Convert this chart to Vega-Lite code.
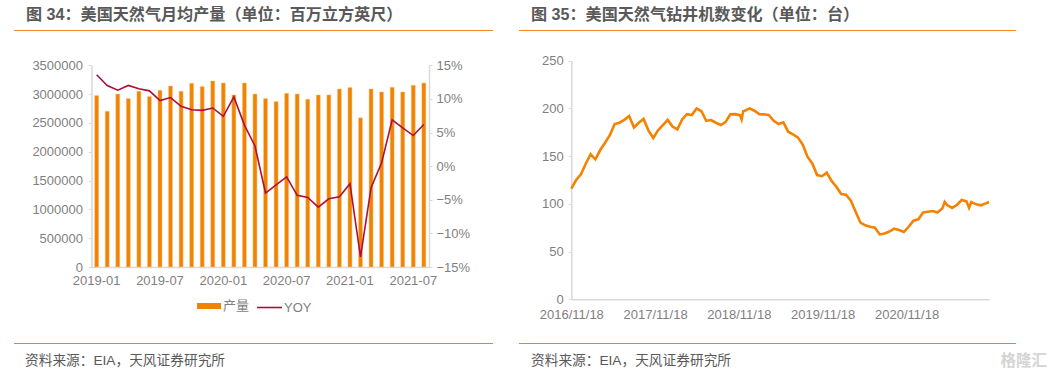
{"$schema":"https://vega.github.io/schema/vega-lite/v6.json","padding":{"left":13,"top":6,"right":0,"bottom":0},"background":"white","spacing":24,"config":{"view":{"stroke":null},"font":"Liberation Sans, Noto Sans CJK SC","title":{"font":"Liberation Sans, Noto Sans CJK SC"},"axis":{"labelFont":"Liberation Sans, Noto Sans CJK SC"},"legend":{"labelFont":"Liberation Sans, Noto Sans CJK SC"}},
"datasets":{"rule":[{"from":0,"to":1,"mark":"格隆汇"}],
"prod":[{"month":"2019-01","产量":2975000,"YOY":0.136},{"month":"2019-02","产量":2703000,"YOY":0.12},{"month":"2019-03","产量":3003000,"YOY":0.113},{"month":"2019-04","产量":2923000,"YOY":0.12},{"month":"2019-05","产量":3050000,"YOY":0.115},{"month":"2019-06","产量":2957000,"YOY":0.112},{"month":"2019-07","产量":3067000,"YOY":0.0975},{"month":"2019-08","产量":3142000,"YOY":0.102},{"month":"2019-09","产量":3050000,"YOY":0.089},{"month":"2019-10","产量":3188000,"YOY":0.084},{"month":"2019-11","产量":3130000,"YOY":0.083},{"month":"2019-12","产量":3229000,"YOY":0.0865},{"month":"2020-01","产量":3194000,"YOY":0.074},{"month":"2020-02","产量":2986000,"YOY":0.103},{"month":"2020-03","产量":3194000,"YOY":0.061},{"month":"2020-04","产量":3003000,"YOY":0.03},{"month":"2020-05","产量":2923000,"YOY":-0.04},{"month":"2020-06","产量":2870000,"YOY":-0.028},{"month":"2020-07","产量":3015000,"YOY":-0.016},{"month":"2020-08","产量":3003000,"YOY":-0.0435},{"month":"2020-09","产量":2911000,"YOY":-0.0465},{"month":"2020-10","产量":2986000,"YOY":-0.061},{"month":"2020-11","产量":2986000,"YOY":-0.0485},{"month":"2020-12","产量":3090000,"YOY":-0.0455},{"month":"2021-01","产量":3113000,"YOY":-0.026},{"month":"2021-02","产量":2588000,"YOY":-0.135},{"month":"2021-03","产量":3090000,"YOY":-0.032},{"month":"2021-04","产量":3038000,"YOY":0.005},{"month":"2021-05","产量":3119000,"YOY":0.069},{"month":"2021-06","产量":3038000,"YOY":0.057},{"month":"2021-07","产量":3153000,"YOY":0.0455},{"month":"2021-08","产量":3194000,"YOY":0.062}],
"rigs":[{"date":"2016/11/18","rigs":116},{"date":"2016/12/09","rigs":125},{"date":"2016/12/30","rigs":131},{"date":"2017/01/20","rigs":142},{"date":"2017/02/10","rigs":152},{"date":"2017/03/03","rigs":146.6},{"date":"2017/03/24","rigs":156.4},{"date":"2017/04/14","rigs":164},{"date":"2017/05/05","rigs":172},{"date":"2017/05/26","rigs":183.6},{"date":"2017/06/16","rigs":185},{"date":"2017/07/07","rigs":188},{"date":"2017/07/28","rigs":192},{"date":"2017/08/18","rigs":180},{"date":"2017/09/08","rigs":185},{"date":"2017/09/29","rigs":189},{"date":"2017/10/20","rigs":177},{"date":"2017/11/10","rigs":169},{"date":"2017/12/01","rigs":177},{"date":"2017/12/22","rigs":182.6},{"date":"2018/01/12","rigs":188},{"date":"2018/02/02","rigs":181},{"date":"2018/02/23","rigs":178},{"date":"2018/03/16","rigs":188.5},{"date":"2018/04/06","rigs":194},{"date":"2018/04/27","rigs":193},{"date":"2018/05/18","rigs":200},{"date":"2018/06/08","rigs":197},{"date":"2018/06/29","rigs":187},{"date":"2018/07/20","rigs":187.8},{"date":"2018/08/10","rigs":185},{"date":"2018/08/31","rigs":182.6},{"date":"2018/09/21","rigs":185.7},{"date":"2018/10/12","rigs":193.8},{"date":"2018/11/02","rigs":194},{"date":"2018/11/23","rigs":193},{"date":"2018/11/30","rigs":188.5},{"date":"2018/12/07","rigs":197},{"date":"2018/12/14","rigs":197.6},{"date":"2019/01/04","rigs":200},{"date":"2019/01/25","rigs":197.6},{"date":"2019/02/15","rigs":194},{"date":"2019/03/08","rigs":193.8},{"date":"2019/03/29","rigs":193},{"date":"2019/04/19","rigs":187},{"date":"2019/05/10","rigs":183.6},{"date":"2019/05/31","rigs":185.4},{"date":"2019/06/21","rigs":175.6},{"date":"2019/07/12","rigs":172.8},{"date":"2019/08/02","rigs":169.7},{"date":"2019/08/23","rigs":162.3},{"date":"2019/09/13","rigs":149.4},{"date":"2019/10/04","rigs":142.4},{"date":"2019/10/25","rigs":130.2},{"date":"2019/11/15","rigs":129},{"date":"2019/12/06","rigs":132.7},{"date":"2019/12/27","rigs":124},{"date":"2020/01/17","rigs":118},{"date":"2020/02/07","rigs":110.3},{"date":"2020/02/28","rigs":109.5},{"date":"2020/03/20","rigs":103.3},{"date":"2020/04/10","rigs":91.8},{"date":"2020/05/01","rigs":80.3},{"date":"2020/05/22","rigs":77.5},{"date":"2020/06/12","rigs":76},{"date":"2020/07/03","rigs":75},{"date":"2020/07/24","rigs":68},{"date":"2020/08/14","rigs":69},{"date":"2020/09/04","rigs":71},{"date":"2020/09/25","rigs":74},{"date":"2020/10/16","rigs":72.6},{"date":"2020/11/06","rigs":70.5},{"date":"2020/11/27","rigs":76},{"date":"2020/12/18","rigs":82.4},{"date":"2021/01/08","rigs":83.8},{"date":"2021/01/29","rigs":91},{"date":"2021/02/19","rigs":91.8},{"date":"2021/03/12","rigs":92.5},{"date":"2021/04/02","rigs":91},{"date":"2021/04/23","rigs":95.3},{"date":"2021/05/03","rigs":102},{"date":"2021/05/14","rigs":98.8},{"date":"2021/06/04","rigs":95.7},{"date":"2021/06/25","rigs":98.8},{"date":"2021/07/16","rigs":104},{"date":"2021/08/06","rigs":102.6},{"date":"2021/08/17","rigs":96},{"date":"2021/08/27","rigs":102},{"date":"2021/09/17","rigs":99.5},{"date":"2021/10/08","rigs":98.5},{"date":"2021/10/29","rigs":100.5},{"date":"2021/11/12","rigs":102}]},
"hconcat":[
{"bounds":"flush","spacing":0,"vconcat":[
{"width":479,"height":1,"data":{"name":"rule"},"title":{"text":"图 34\uff1a美国天然气月均产量\uff08单位\uff1a百万立方英尺\uff09","anchor":"start","frame":"group","dx":12,"fontSize":16.1,"fontWeight":"bold","color":"#595959","offset":7},"mark":{"type":"rule","color":"#f68a1e","strokeWidth":1},"encoding":{"x":{"field":"from","type":"quantitative","scale":{"domain":[0,1]},"axis":null},"x2":{"field":"to"}}},
{"width":479,"height":312,"data":{"name":"prod"},"layer":[
{"mark":{"type":"bar","stroke":"#f9c78f","strokeWidth":0.5},"encoding":{"x":{"field":"month","type":"ordinal","sort":null,"scale":{"range":[77.5,415],"paddingInner":0.62,"paddingOuter":0.3},"axis":{"title":null,"values":["2019-01","2019-07","2020-01","2020-07","2021-01","2021-07"],"labelAngle":0,"labelColor":"#7f7f7f","labelFontSize":13,"labelPadding":7,"ticks":false,"domainColor":"#d9d9d9","domainWidth":1.5,"grid":false,"offset":-76}},"y":{"field":"产量","type":"quantitative","scale":{"domain":[0,3500000],"range":[236,34.3],"nice":false},"axis":{"title":null,"values":[0,500000,1000000,1500000,2000000,2500000,3000000,3500000],"format":"d","labelColor":"#7f7f7f","labelFontSize":13,"labelPadding":6,"tickColor":"#d9d9d9","tickSize":3,"domainColor":"#d9d9d9","domainWidth":1.5,"grid":false,"offset":-77.5}},"fill":{"datum":"产量","scale":{"domain":["产量"],"range":["#f08300"]},"legend":{"orient":"none","legendX":183,"legendY":263,"title":null,"symbolType":"M-1,-0.25H1V0.25H-1Z","symbolSize":576,"symbolStrokeWidth":0,"labelColor":"#7f7f7f","labelFontSize":13,"labelOffset":2}}}},
{"mark":{"type":"line","strokeWidth":1.6,"interpolate":"linear"},"encoding":{"x":{"field":"month","type":"ordinal","sort":null},"y":{"field":"YOY","type":"quantitative","scale":{"domain":[-0.15,0.15],"range":[236,34.3],"nice":false},"axis":{"title":null,"orient":"right","values":[-0.15,-0.1,-0.05,0,0.05,0.1,0.15],"format":".0%","labelColor":"#7f7f7f","labelFontSize":13,"labelPadding":4,"tickColor":"#d9d9d9","tickSize":3,"domainColor":"#d9d9d9","domainWidth":1.5,"grid":false,"offset":-64}},"stroke":{"datum":"YOY","scale":{"domain":["YOY"],"range":["#ad0f3c"]},"legend":{"orient":"none","legendX":242,"legendY":263,"title":null,"symbolType":"stroke","symbolSize":625,"symbolStrokeWidth":1.6,"labelColor":"#7f7f7f","labelFontSize":13,"labelOffset":1}}}}
],"resolve":{"scale":{"y":"independent"},"axis":{"y":"independent"},"legend":{"fill":"independent","stroke":"independent"}}},
{"width":479,"height":1,"data":{"name":"rule"},"title":{"text":"资料来源\uff1aEIA\uff0c天风证券研究所","orient":"bottom","anchor":"start","frame":"group","dx":11,"fontSize":13.7,"fontWeight":"normal","color":"#595959","offset":10},"mark":{"type":"rule","color":"#ed7d31","strokeWidth":1},"encoding":{"x":{"field":"from","type":"quantitative","scale":{"domain":[0,1]},"axis":null},"x2":{"field":"to"}}}
]},
{"bounds":"flush","spacing":0,"vconcat":[
{"width":497,"height":1,"data":{"name":"rule"},"title":{"text":"图 35\uff1a美国天然气钻井机数变化\uff08单位\uff1a台\uff09","anchor":"start","frame":"group","dx":12,"fontSize":16.1,"fontWeight":"bold","color":"#595959","offset":7},"mark":{"type":"rule","color":"#f68a1e","strokeWidth":1},"encoding":{"x":{"field":"from","type":"quantitative","scale":{"domain":[0,1]},"axis":null},"x2":{"field":"to"}}},
{"width":497,"height":312,"data":{"name":"rigs"},"mark":{"type":"line","color":"#f58200","strokeWidth":2.6,"interpolate":"linear"},"encoding":{"x":{"field":"date","type":"temporal","scale":{"domain":[{"year":2016,"month":11,"date":18},{"year":2021,"month":11,"date":12}],"range":[52.3,470]},"axis":{"title":null,"values":[{"year":2016,"month":11,"date":18},{"year":2017,"month":11,"date":18},{"year":2018,"month":11,"date":18},{"year":2019,"month":11,"date":18},{"year":2020,"month":11,"date":18}],"format":"%Y/%m/%d","labelAngle":0,"labelColor":"#7f7f7f","labelFontSize":13,"labelPadding":9,"labelFlush":false,"ticks":false,"domainColor":"#d9d9d9","domainWidth":1.5,"grid":false,"offset":-43.7}},"y":{"field":"rigs","type":"quantitative","scale":{"domain":[0,250],"range":[268.3,29.7],"nice":false},"axis":{"title":null,"values":[0,50,100,150,200,250],"labelColor":"#7f7f7f","labelFontSize":13,"labelPadding":5,"tickColor":"#d9d9d9","tickSize":3,"domainColor":"#d9d9d9","domainWidth":1.5,"grid":false,"offset":-52.3}}}},
{"width":497,"height":1,"data":{"name":"rule"},"title":{"text":"资料来源\uff1aEIA\uff0c天风证券研究所","orient":"bottom","anchor":"start","frame":"group","dx":12,"fontSize":13.7,"fontWeight":"normal","color":"#595959","offset":-15},"layer":[{"mark":{"type":"rule","color":"#ed7d31","strokeWidth":1},"encoding":{"x":{"field":"from","type":"quantitative","scale":{"domain":[0,1]},"axis":null},"x2":{"field":"to"}}},{"mark":{"type":"text","align":"right","baseline":"middle","dx":31,"dy":17,"fontSize":15.5,"fontWeight":"bold","color":"#d4d4d4"},"encoding":{"x":{"field":"to","type":"quantitative"},"text":{"field":"mark"}}}]}
]}
]}
